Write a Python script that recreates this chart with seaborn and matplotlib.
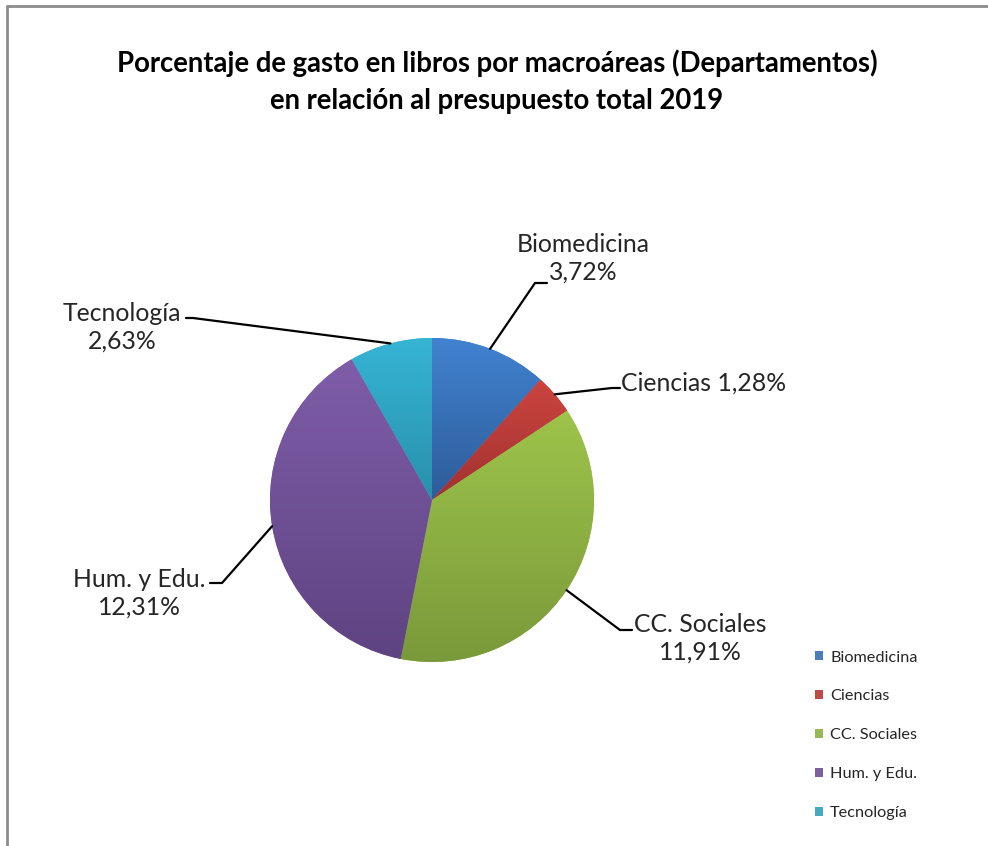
import matplotlib
matplotlib.use('Agg')
import matplotlib.pyplot as plt
import seaborn as sns
import numpy as np
from matplotlib.patches import Rectangle
from matplotlib.lines import Line2D
from matplotlib.colors import LinearSegmentedColormap

# data
categories = ['Biomedicina', 'Ciencias', 'CC. Sociales', 'Hum. y Edu.', 'Tecnología']
values = [3.72, 1.28, 11.91, 12.31, 2.63]
value_labels = ['3,72%', '1,28%', '11,91%', '12,31%', '2,63%']

# gradient colours per slice (top, bottom) - excel style shading
top_colors = ['#4182d0', '#cc443f', '#9ec44b', '#7f5da9', '#36b4d4']
bottom_colors = ['#2d5c99', '#a23230', '#7a993a', '#5e4381', '#2890ac']
mid_colors = sns.blend_palette(['#4a7ebb', '#be4b48', '#98b954', '#7d60a0', '#46aac5'], 5)

sns.set_theme(style='white')
plt.rcParams['font.family'] = ['Lato', 'DejaVu Sans']
TXT = '#262626'

fig = plt.figure(figsize=(9.88, 8.46), dpi=100)

# pie axes: centre (432, 500) px, radius 162 px
W, H = 988, 846
cx, cy, r = 432, 500, 162
ax = fig.add_axes([(cx - r) / W, (H - cy - r) / H, 2 * r / W, 2 * r / H])

wedges, _ = ax.pie(values, startangle=90, counterclock=False, colors=mid_colors,
                   wedgeprops=dict(linewidth=0))
ax.set_xlim(-1, 1)
ax.set_ylim(-1, 1)
ax.set_aspect('equal')
ax.axis('off')

# fill each wedge with a vertical gradient
for w, c_top, c_bot in zip(wedges, top_colors, bottom_colors):
    ext = w.get_path().get_extents()
    cmap = LinearSegmentedColormap.from_list('g', [c_bot, c_top])
    grad = np.linspace(0, 1, 256).reshape(-1, 1)
    im = ax.imshow(grad, cmap=cmap, origin='lower', aspect='auto',
                   extent=[ext.x0, ext.x1, ext.y0, ext.y1], zorder=2)
    im.set_clip_path(w)
ax.set_xlim(-1, 1)
ax.set_ylim(-1, 1)


def px(x, y):
    return ((x - cx) / r, (cy - y) / r)


# label positions (px): text block centre, elbow, end of horizontal tick
labels_pos = {
    'Biomedicina': dict(text=(583, 258), elbow=(535, 283), end=(547, 283), two=True, ha='center'),
    'Ciencias': dict(text=(621, 383), elbow=(612, 388), end=(620, 388), two=False, ha='left'),
    'CC. Sociales': dict(text=(700, 638), elbow=(620, 630), end=(632, 630), two=True, ha='center'),
    'Hum. y Edu.': dict(text=(139, 593), elbow=(222, 583), end=(210, 583), two=True, ha='center'),
    'Tecnología': dict(text=(122, 327), elbow=(193, 318), end=(186, 318), two=True, ha='center'),
}

for w, name, vl in zip(wedges, categories, value_labels):
    p = labels_pos[name]
    mid = np.deg2rad((w.theta1 + w.theta2) / 2)
    x0, y0 = np.cos(mid), np.sin(mid)
    ex, ey = px(*p['elbow'])
    fx, fy = px(*p['end'])
    ax.add_line(Line2D([x0, ex, fx], [y0, ey, fy], color='black', lw=1.6,
                       clip_on=False, zorder=3))
    tx, ty = px(*p['text'])
    txt = f'{name}\n{vl}' if p['two'] else f'{name} {vl}'
    ax.text(tx, ty, txt, ha=p['ha'], va='center', fontsize=17.8, color=TXT,
            linespacing=1.22, clip_on=False)

# title
fig.text(497 / W, 1 - 82 / H,
         'Porcentaje de gasto en libros por macroáreas (Departamentos)\nen relación al presupuesto total 2019',
         ha='center', va='center', fontsize=19.8, fontweight='bold', color='black',
         linespacing=1.52)

# legend
handles = [Rectangle((0, 0), 1, 1, facecolor=c, edgecolor='none') for c in mid_colors]
fig.legend(handles, categories, loc='upper left', bbox_to_anchor=(800 / W, 1 - 636 / H),
           frameon=False, fontsize=11.7, handlelength=0.5, handleheight=0.5,
           handletextpad=0.45, labelspacing=1.53, labelcolor=TXT)

# chart frame (left and top edges)
fig.add_artist(Line2D([7 / W, 7 / W], [0, 1 - 6 / H], color='#8c8c8c', lw=2,
                      transform=fig.transFigure))
fig.add_artist(Line2D([7 / W, 1], [1 - 6 / H, 1 - 6 / H], color='#8c8c8c', lw=2,
                      transform=fig.transFigure))

fig.savefig('out.png', dpi=100, facecolor='white')
